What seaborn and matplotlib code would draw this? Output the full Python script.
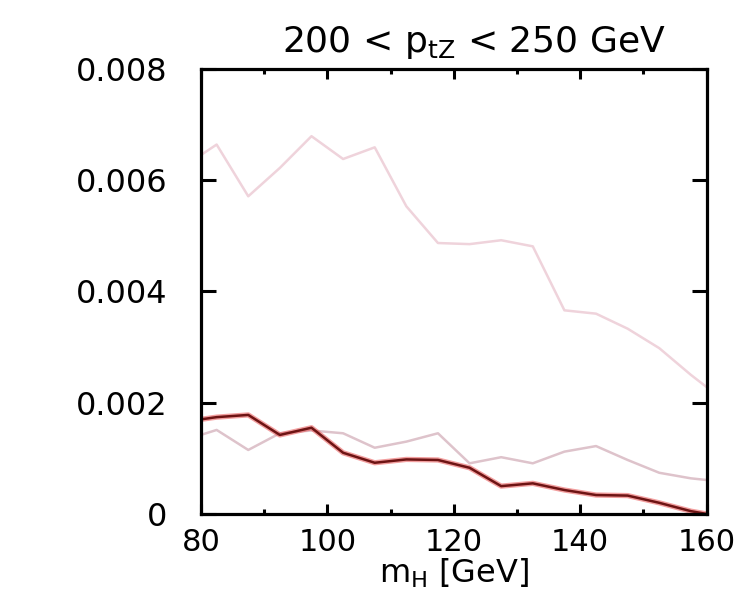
import matplotlib
matplotlib.use("Agg")
import matplotlib.pyplot as plt
from matplotlib.ticker import MultipleLocator
import seaborn as sns

sns.set_style("white")
plt.rcParams["font.family"] = ["DejaVu Sans"]
plt.rcParams["mathtext.fontset"] = "dejavusans"
plt.rcParams["text.color"] = "black"
plt.rcParams["axes.labelcolor"] = "black"
plt.rcParams["xtick.color"] = "black"
plt.rcParams["ytick.color"] = "black"

# m_H points (bin centres, plus the two axis edges)
m_h = [80, 82.5, 87.5, 92.5, 97.5, 102.5, 107.5, 112.5, 117.5, 122.5,
       127.5, 132.5, 137.5, 142.5, 147.5, 152.5, 157.5, 160]

# upper pale curve
upper = [0.00645, 0.00664, 0.00571, 0.00622, 0.00679, 0.00638, 0.00659,
         0.00553, 0.00487, 0.00485, 0.00492, 0.00481, 0.00366, 0.00360,
         0.00333, 0.00298, 0.00250, 0.00228]
# middle pale curve
middle = [0.00142, 0.00151, 0.00115, 0.00145, 0.00150, 0.00145, 0.00119,
          0.00130, 0.00145, 0.00091, 0.00102, 0.00091, 0.00112, 0.00122,
          0.00097, 0.00074, 0.00064, 0.00061]
# dark red curve
dark = [0.00170, 0.00174, 0.00178, 0.00142, 0.00155, 0.00110, 0.00092,
        0.00098, 0.00097, 0.00083, 0.00050, 0.00055, 0.00043, 0.00034,
        0.00033, 0.00020, 0.00005, 0.00000]

y_ticks = [0, 0.002, 0.004, 0.006, 0.008]
y_tick_labels = ["0", "0.002", "0.004", "0.006", "0.008"]

fig = plt.figure(figsize=(7.55, 5.99), dpi=100)
ax = fig.add_axes([0.266, 0.142, 0.670, 0.743])

sns.lineplot(x=m_h, y=upper, ax=ax, color="#efd3db", lw=1.8)
sns.lineplot(x=m_h, y=middle, ax=ax, color="#dec3cb", lw=1.8)
# dark line with a reddish halo
sns.lineplot(x=m_h, y=dark, ax=ax, color="#e85050", lw=3.8, alpha=0.55)
sns.lineplot(x=m_h, y=dark, ax=ax, color="#6e1414", lw=1.8)

ax.set_xlim(80, 160)
ax.set_ylim(0, 0.008)
ax.xaxis.set_major_locator(MultipleLocator(20))
ax.xaxis.set_minor_locator(MultipleLocator(10))
ax.set_yticks(y_ticks, labels=y_tick_labels)

for s in ax.spines.values():
    s.set_linewidth(2.3)
    s.set_color("black")

ax.tick_params(axis="x", which="major", direction="in", length=7, width=2.2,
               top=True, bottom=True, labelsize=22, pad=10)
ax.tick_params(axis="x", which="minor", direction="in", length=3.5, width=2.2,
               top=True, bottom=True)
ax.tick_params(axis="y", which="major", direction="in", length=11, width=2.2,
               left=True, right=True, labelsize=23, pad=24)

ax.set_xlabel(r"m$_\mathregular{H}$ [GeV]", fontsize=23, labelpad=0)
ax.set_title(r"200 < p$_\mathregular{tZ}$ < 250 GeV", fontsize=26, pad=12, x=0.54)

fig.savefig("out.png", dpi=100)
